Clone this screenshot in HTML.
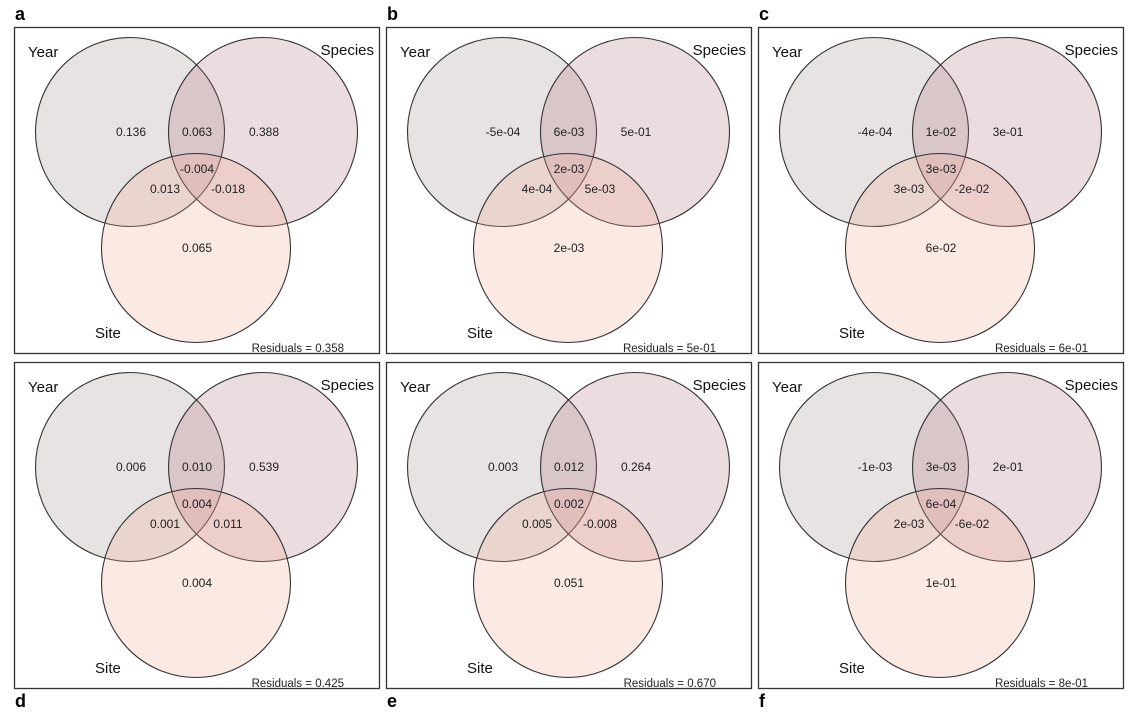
<!DOCTYPE html>
<html><head><meta charset="utf-8"><style>
body{margin:0;background:#fff;}
svg{display:block;font-family:"Liberation Sans",Arial,sans-serif;}
</style></head><body>
<svg id="fig" width="1134" height="718" viewBox="0 0 1134 718"></svg>
<script>
const panelLetters=["a","b","c","d","e","f"];
const yearOnly=["0.136","-5e-04","-4e-04","0.006","0.003","-1e-03"];
const yearSpecies=["0.063","6e-03","1e-02","0.010","0.012","3e-03"];
const speciesOnly=["0.388","5e-01","3e-01","0.539","0.264","2e-01"];
const allThree=["-0.004","2e-03","3e-03","0.004","0.002","6e-04"];
const yearSite=["0.013","4e-04","3e-03","0.001","0.005","2e-03"];
const speciesSite=["-0.018","5e-03","-2e-02","0.011","-0.008","-6e-02"];
const siteOnly=["0.065","2e-03","6e-02","0.004","0.051","1e-01"];
const residuals=["0.358","5e-01","6e-01","0.425","0.670","8e-01"];
const NS="http://www.w3.org/2000/svg";
const svg=document.getElementById("fig");
function mk(tag,attrs,parent){const e=document.createElementNS(NS,tag);for(const k in attrs)e.setAttribute(k,attrs[k]);parent.appendChild(e);return e;}
const fx=[14,386,758], fy=[27,362];
for(let i=0;i<6;i++){
  const X=fx[i%3], Y=fy[Math.floor(i/3)];
  const g=mk("g",{transform:`translate(${X},${Y})`},svg);
  
  
  const fr=mk("rect",{x:0.5,y:0.5,width:365,height:326,fill:"none",stroke:"#333","stroke-width":1.3},g);
  
  
  const circ=[[116,105,"rgba(160,140,140,0.24)","year-circle"],[249,105,"rgba(170,110,120,0.24)","species-circle"],[182,221,"rgba(240,170,145,0.26)","site-circle"]];
  circ.forEach(c=>{const e=mk("circle",{cx:c[0],cy:c[1],r:94.5,fill:c[2],stroke:"#333","stroke-width":1.1},g);
    
    });
  const vals=[[117,yearOnly[i],"year-only-value",109],[183,yearSpecies[i],"year-species-value",109],[250,speciesOnly[i],"species-only-value",109],
    [183,allThree[i],"all-three-value",146],[151,yearSite[i],"year-site-value",166],[214,speciesSite[i],"species-site-value",166],[183,siteOnly[i],"site-only-value",225]];
  vals.forEach(v=>{const t=mk("text",{x:v[0],y:v[3],"font-size":12,"text-anchor":"middle",fill:"#222"},g);t.textContent=v[1];
    
    });
  const labs=[[14,30,"start","Year","year-label"],[360,28,"end","Species","species-label"],[81,311,"start","Site","site-label"]];
  labs.forEach(l=>{const t=mk("text",{x:l[0],y:l[1],"font-size":15,"text-anchor":l[2],fill:"#111"},g);t.textContent=l[3];
    
    });
  const r=mk("text",{x:330,y:325,"font-size":11.5,"text-anchor":"end",fill:"#222"},g);r.textContent="Residuals =  "+residuals[i];
  
  
  const lt=mk("text",{x:X+1,y:i<3?20:707,"font-size":18,"font-weight":"bold",fill:"#000"},svg);lt.textContent=panelLetters[i];
  
  
}
</script>
</body></html>
